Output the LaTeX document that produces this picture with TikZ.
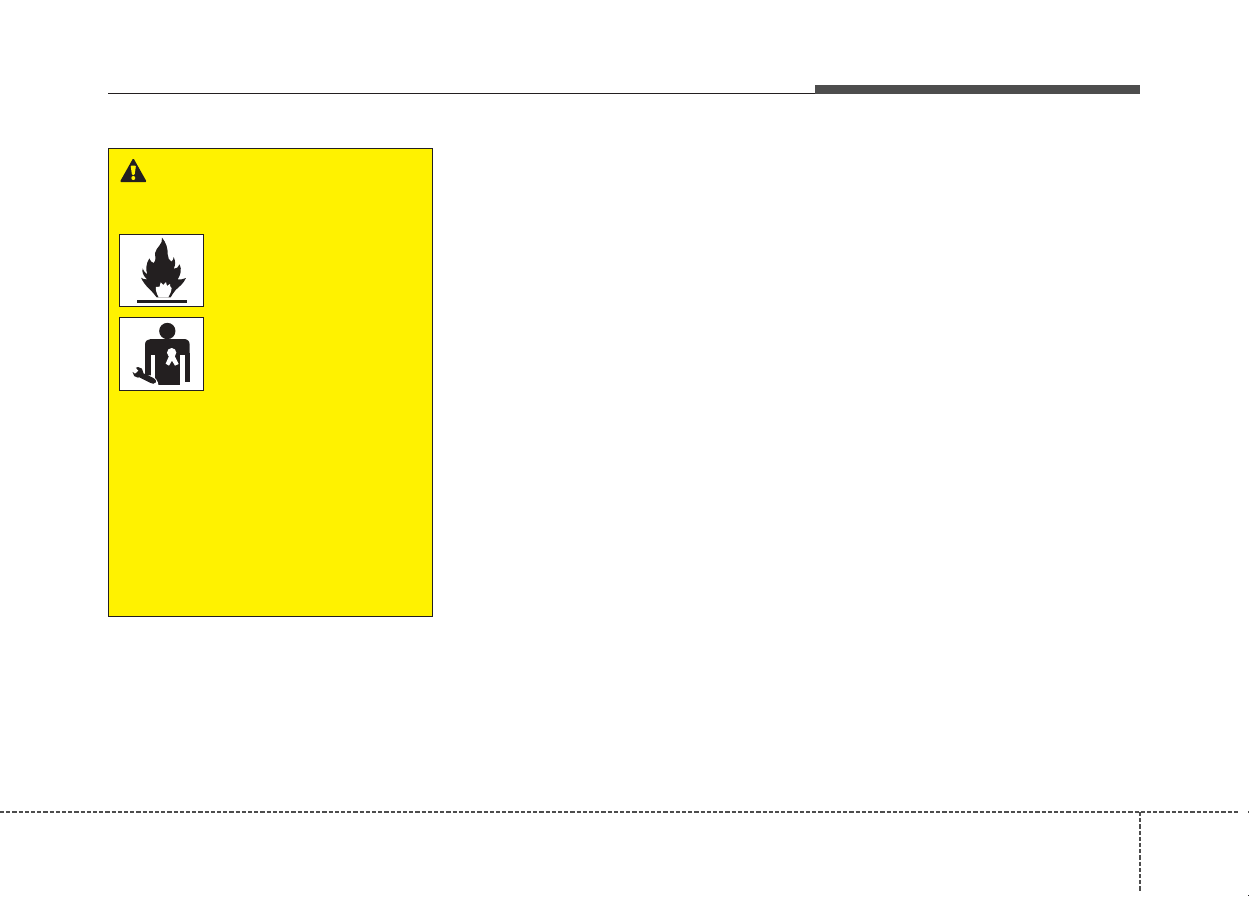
\documentclass[tikz,border=0pt]{standalone}
\definecolor{signyellow}{HTML}{FFF200}
\definecolor{bargray}{HTML}{4D4D4D}
\definecolor{ink}{HTML}{231F20}
\tikzset{
  px/.style={x=1pt,y=-1pt},
  iconbox/.style={draw=ink,fill=white,line width=1.2pt},
  trim/.style={draw=bargray,line width=2.3pt,dash pattern=on 4.2pt off 2pt},
  zoomed/.style={x=0.3333pt,y=-0.3333pt},
}
\begin{document}
\begin{tikzpicture}[px]
\useasboundingbox (0,0) rectangle (1249,897);
% header
\fill[ink] (108,92.6) rectangle (815,93.9);
\fill[bargray] (815,85) rectangle (1140,94);
% crop guides
\draw[trim] (0,812) -- (1238,812);
\draw[trim] (1140,812) -- (1140,892);
\fill[bargray] (1247.5,810.5) rectangle (1249,813);
\fill[ink] (1247.5,894.5) rectangle (1249,896);
% warning panel
\draw[draw=ink,fill=signyellow,line width=1.2pt] (108.5,148.7) rectangle (432.5,616.5);
% warning triangle
\fill[ink,rounded corners=1.2pt] (133.3,158) -- (146.8,182) -- (119.8,182) -- cycle;
\fill[signyellow,rounded corners=1pt] (130.6,165.5) -- (136,165.5) -- (134.6,175) -- (132,175) -- cycle;
\fill[signyellow] (133.3,178) circle (2);
% flame sign
\draw[iconbox] (119.5,234.5) rectangle (203.5,306.5);
\fill[ink] (137,299.6) rectangle (187,302.6);
\begin{scope}[shift={(130,235)},zoomed]
\fill[ink] (96,8) .. controls (108,22) and (114,40) .. (113,58)
  .. controls (113,68) and (118,76) .. (124,80)
  .. controls (129,76) and (131,72) .. (131,66)
  .. controls (138,80) and (136,92) .. (131,101)
  .. controls (138,103) and (146,96) .. (149,88)
  .. controls (156,103) and (152,120) .. (143,133)
  .. controls (150,134) and (160,133) .. (168,129)
  .. controls (160,147) and (147,155) .. (137,165)
  .. controls (130,173) and (126,180) .. (122,187)
  -- (80,187)
  .. controls (73,177) and (66,170) .. (56,160)
  .. controls (48,152) and (38,140) .. (33,128)
  .. controls (38,132) and (45,134) .. (51,133)
  .. controls (40,122) and (35,112) .. (38,100)
  .. controls (42,110) and (46,114) .. (52,118)
  .. controls (47,105) and (48,85) .. (58,70)
  .. controls (60,78) and (65,82) .. (71,84)
  .. controls (79,75) and (76,65) .. (75,55)
  .. controls (78,36) and (100,28) .. (96,8) -- cycle;
\fill[white] (86,187) .. controls (80,175) and (76,165) .. (78,156)
  .. controls (82,158) and (85,157) .. (89,155)
  -- (92,142) -- (100,150) -- (108,141) -- (111,153) -- (120,147)
  .. controls (119,152) and (120,156) .. (125,159)
  .. controls (124,170) and (119,180) .. (115,187) -- cycle;
\end{scope}
% mechanic sign
\draw[iconbox] (119.5,317.5) rectangle (203.5,390.5);
\begin{scope}[shift={(130,320)},zoomed]
\fill[ink] (112,33) circle (24.5);
\fill[ink] (45,110) -- (45,74) .. controls (45,63) and (53,57) .. (62,57) -- (162,57)
  .. controls (172,57) and (179,63) .. (179,74) -- (179,110) -- cycle;
\fill[ink] (45,100) rectangle (62,168);
\fill[ink] (165,100) rectangle (179,186);
\fill[ink] (75,100) rectangle (150,196);
\fill[white] (62,106) rectangle (75,168);
\fill[white] (150,106) rectangle (165,190);
% ribbon
\fill[white] (125,98) circle (14);
\fill[white] (118,106) -- (133,106) -- (146,132) -- (135,137) -- (126,122) -- (117,137) -- (107,131) -- cycle;
% wrench
\fill[white] (44,168) -- (62,166) .. controls (75,170) and (84,182) .. (86,197) -- (70,197) -- cycle;
\fill[ink] (36,158) -- (62,170) .. controls (72,174) and (80,180) .. (78,187)
  .. controls (74,194) and (66,191) .. (60,188) -- (28,172) -- cycle;
\fill[ink] (24,157) circle (16);
\fill[white] (8,134) -- (25,152) -- (15,161) -- (-1,147) -- cycle;
\end{scope}
\end{tikzpicture}
\end{document}
